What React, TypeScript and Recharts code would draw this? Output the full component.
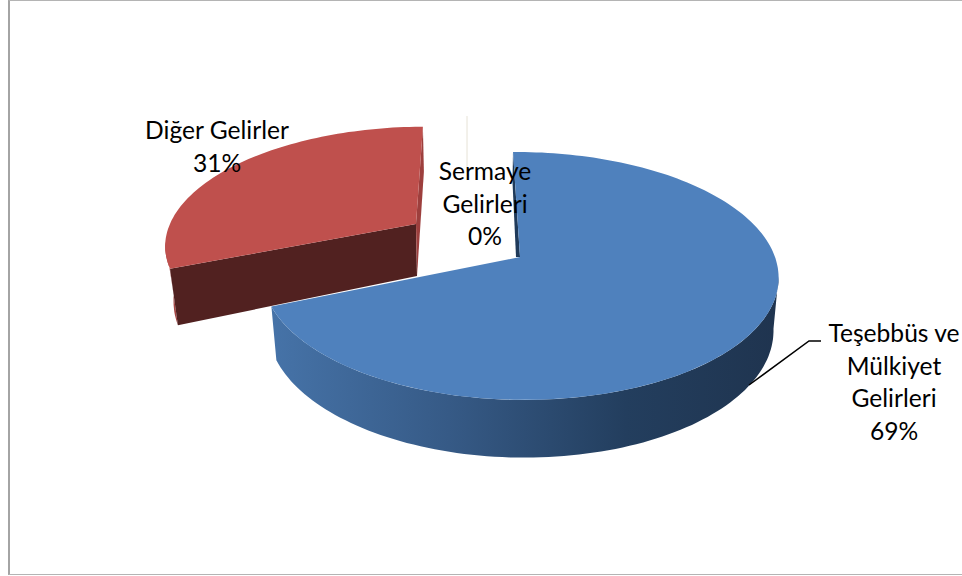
import { PieChart, Pie } from 'recharts'

const names = ['Teşebbüs ve Mülkiyet Gelirleri', 'Sermaye Gelirleri', 'Diğer Gelirler']
const shares = [69, 0, 31]
const labelLines = [['Teşebbüs ve', 'Mülkiyet', 'Gelirleri'], ['Sermaye', 'Gelirleri'], ['Diğer Gelirler']]

const data = names.map((name, i) => ({ name, value: shares[i], lines: labelLines[i] }))

const TILT = 0.153 // perspective strength of the pie plate
const STEP = 1.5
const SILHOUETTE = (Math.asin(TILT) * 180) / Math.PI

type View = {
  dx: number; dy: number; rx: number; ry: number; shear: number; turn: number
  bx: number; by: number; brx: number; bry: number
  top: string; wall: string; face?: string
  strip?: string; stripEdge?: 'start' | 'end'; stripMid?: number[]; stripLow?: number[]
}

const VIEWS: Record<string, View> = {
  [names[0]]: {
    dx: 0, dy: 0, rx: 1, ry: 0.4745, shear: 0.03, turn: -1,
    bx: 0, by: 52, brx: 0.98, bry: 0.4935,
    top: '#4f81bd', wall: 'url(#blueWall)',
    strip: '#1f3a5a', stripEdge: 'start', stripMid: [-0.5, 30], stripLow: [-4, 0],
  },
  [names[1]]: {
    dx: -53, dy: -36, rx: 1, ry: 0.4745, shear: 0, turn: 0,
    bx: 0, by: 0, brx: 1, bry: 0.4745,
    top: '#e6e2d6', wall: 'none',
  },
  [names[2]]: {
    dx: -104, dy: -33, rx: 0.965, ry: 0.44, shear: -0.09, turn: -1.5,
    bx: 1, by: 52, brx: 0.936, bry: 0.483,
    top: '#bf504d', wall: '#a54543', face: '#512120',
    strip: '#9d3f3d', stripEdge: 'end', stripMid: [1, 45], stripLow: [1, 52],
  },
}

const LABEL_SPOTS: Record<string, { x: number; y: number }> = {
  [names[0]]: { x: 894, y: 342 },
  [names[1]]: { x: 485, y: 180 },
  [names[2]]: { x: 217, y: 139 },
}

const leader = '749,385 809,341 821,341'

const toPath = (pts: number[][]) => 'M' + pts.map(p => `${p[0].toFixed(1)},${p[1].toFixed(1)}`).join('L') + 'Z'

function Slab(props: any) {
  const { cx, cy, outerRadius: r, startAngle, endAngle, name } = props
  const v = VIEWS[name]
  const ax = cx + v.dx
  const ay = cy + v.dy

  const rim = (deg: number, floor = false) => {
    const t = ((deg + v.turn) * Math.PI) / 180
    const den = 1 + TILT * Math.sin(t)
    const w = (floor ? v.brx : v.rx) * r
    const h = (floor ? v.bry : v.ry) * r
    const oy = -(h * Math.sin(t)) / den
    const ox = (w * Math.cos(t)) / den + v.shear * oy
    return [ax + (floor ? v.bx : 0) + ox, ay + (floor ? v.by : 0) + oy]
  }
  const sweep = (from: number, to: number, floor = false) => {
    const pts: number[][] = []
    for (let a = from; a > to; a -= STEP) pts.push(rim(a, floor))
    pts.push(rim(to, floor))
    return pts
  }

  // zero share: only the faint sliver of the exploded slice, seen at the back of the plate
  if (Math.abs(startAngle - endAngle) < 0.01) {
    const p = rim(90)
    return <line x1={ax} y1={p[1]} x2={ax} y2={p[1] + 56} stroke={v.top} strokeWidth={1} />
  }

  const apex = [ax, ay]
  const floorApex = [ax + v.bx, ay + v.by]
  const wallFrom = Math.min(startAngle, -SILHOUETTE - v.turn)
  const wallTo = Math.max(endAngle, -180 + SILHOUETTE - v.turn)
  const edge = rim(v.stripEdge === 'end' ? endAngle : startAngle)

  return (
    <g>
      {wallFrom > wallTo && (
        <path d={toPath([...sweep(wallFrom, wallTo), ...sweep(wallFrom, wallTo, true).reverse()])} fill={v.wall} />
      )}
      {v.face && <path d={toPath([apex, rim(startAngle), rim(startAngle, true), floorApex])} fill={v.face} />}
      {v.strip && (
        <path
          d={toPath([
            edge,
            [edge[0] + v.stripMid![0], edge[1] + v.stripMid![1]],
            [ax + v.stripLow![0], ay + v.stripLow![1]],
            apex,
          ])}
          fill={v.strip}
        />
      )}
      <path d={toPath([apex, ...sweep(startAngle, endAngle)])} fill={v.top} />
    </g>
  )
}

function renderLabel(props: any) {
  const { name, percent } = props
  const spot = LABEL_SPOTS[name]
  const lines: string[] = [...data.find(d => d.name === name)!.lines, `${Math.round(percent * 100)}%`]
  return (
    <g key={name}>
      {name === names[0] && <polyline points={leader} fill="none" stroke="#000" strokeWidth={1.5} />}
      <text x={spot.x} textAnchor="middle" fontFamily="Lato, sans-serif" fontSize={24.6} fill="#000">
        {lines.map((t, i) => (
          <tspan key={t} x={spot.x} y={spot.y + i * 32.7}>{t}</tspan>
        ))}
      </text>
    </g>
  )
}

export default function App() {
  return (
    <div style={{ position: 'absolute', left: 0, top: 0, width: 962, height: 576, overflow: 'hidden', background: '#fff' }}>
      <div style={{ position: 'absolute', left: 8, top: 0, width: 970, height: 573, border: '1px solid #b4b4b4', borderLeft: '2px solid #a4a4a4' }} />
      <div style={{ position: 'absolute', left: 0, top: 0 }}>
        <PieChart width={962} height={576} margin={{ top: 0, right: 0, bottom: 0, left: 0 }}>
          <defs>
            <linearGradient id="blueWall" x1="0" y1="0" x2="1" y2="0">
              <stop offset="0" stopColor="#4673a8" />
              <stop offset="0.35" stopColor="#365a86" />
              <stop offset="0.7" stopColor="#233e5e" />
              <stop offset="1" stopColor="#1f344f" />
            </linearGradient>
          </defs>
          <Pie
            data={data}
            dataKey="value"
            nameKey="name"
            cx={520}
            cy={257}
            innerRadius={0}
            outerRadius={255}
            startAngle={92}
            endAngle={-268}
            stroke="none"
            shape={Slab}
            label={renderLabel}
            labelLine={false}
            isAnimationActive={false}
          />
        </PieChart>
      </div>
    </div>
  )
}
